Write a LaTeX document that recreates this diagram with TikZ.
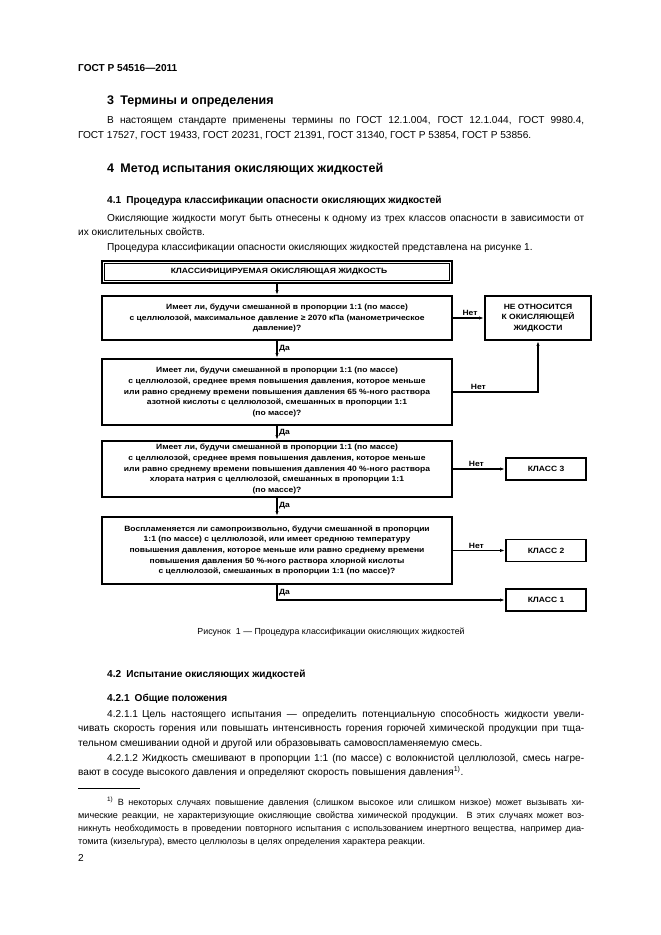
\documentclass[tikz,border=0pt]{standalone}
\usepackage{fontspec}
\setmainfont{Liberation Sans}
\newfontfamily\flowfont{Liberation Sans}[FakeStretch=1.12]
\usetikzlibrary{arrows.meta}
\newcommand\justline[1]{\makebox[506pt][s]{#1}}
\newcommand\justlinei[1]{\makebox[477pt][s]{#1}}
\tikzset{
  body/.style={anchor=base west, inner sep=0pt, font=\fontsize{10.1}{12}\selectfont},
  bodyb/.style={anchor=base west, inner sep=0pt, font=\bfseries\fontsize{10.1}{12}\selectfont},
  head/.style={anchor=base west, inner sep=0pt, font=\bfseries\fontsize{12.5}{14}\selectfont},
  foot/.style={anchor=base west, inner sep=0pt, font=\fontsize{9.1}{11}\selectfont},
  fbox/.style={draw, line width=1.8pt, inner sep=1pt, align=center,
     font=\flowfont\bfseries\fontsize{7.6}{10.6}\selectfont},
  lbl/.style={inner sep=1.5pt, font=\flowfont\bfseries\fontsize{7.6}{9}\selectfont},
  conn/.style={line width=1.1pt, -{Latex[length=5pt,width=3.2pt]}},
}
\begin{document}
\begin{tikzpicture}[x=1pt,y=-1pt]
\useasboundingbox (0,0) rectangle (661,935);
\fill[white] (0,0) rectangle (661,935);

% header and section 3
\node[bodyb] (hdr) at (78,71) {ГОСТ Р 54516—2011};
\node[head] (s3) at (107,104) {3\hspace{0.5em}Термины и определения};
\node[body] (p1a) at (107,123) {\justlinei{В настоящем стандарте применены термины по ГОСТ 12.1.004, ГОСТ 12.1.044, ГОСТ 9980.4,}};
\node[body] (p1b) at (78,138) {ГОСТ 17527, ГОСТ 19433, ГОСТ 20231, ГОСТ 21391, ГОСТ 31340, ГОСТ Р 53854, ГОСТ Р 53856.};

% section 4
\node[head] (s4) at (107,172) {4\hspace{0.5em}Метод испытания окисляющих жидкостей};
\node[bodyb] (s41) at (107,203) {4.1\hspace{0.5em}Процедура классификации опасности окисляющих жидкостей};
\node[body] (p2a) at (107,221) {\justlinei{Окисляющие жидкости могут быть отнесены к одному из трех классов опасности в зависимости от}};
\node[body] (p2b) at (78,235) {их окислительных свойств.};
\node[body] (p3) at (107,250) {Процедура классификации опасности окисляющих жидкостей представлена на рисунке 1.};

% flowchart
\node[fbox, minimum width=350pt, minimum height=22pt] (title) at (277,272) {\hspace*{4pt}КЛАССИФИЦИРУЕМАЯ ОКИСЛЯЮЩАЯ ЖИДКОСТЬ};
\draw[line width=0.8pt] ([shift={(3.2,3.2)}]title.north west) rectangle ([shift={(-3.2,-3.2)}]title.south east);

\node[fbox, minimum width=350pt, minimum height=44pt] (b1) at (277,318)
  {\hspace*{20pt}Имеет ли, будучи смешанной в пропорции 1:1 (по массе)\\
   с целлюлозой, максимальное давление ≥ 2070 кПа (манометрическое\\
   давление)?};
\node[fbox, minimum width=350pt, minimum height=66pt] (b2) at (277,392)
  {Имеет ли, будучи смешанной в пропорции 1:1 (по массе)\\
   с целлюлозой, среднее время повышения давления, которое меньше\\
   или равно среднему времени повышения давления 65 \%-ного раствора\\
   азотной кислоты с целлюлозой, смешанных в пропорции 1:1\\
   (по массе)?};
\node[fbox, minimum width=350pt, minimum height=56pt] (b3) at (277,469)
  {Имеет ли, будучи смешанной в пропорции 1:1 (по массе)\\
   с целлюлозой, среднее время повышения давления, которое меньше\\
   или равно среднему времени повышения давления 40 \%-ного раствора\\
   хлората натрия с целлюлозой, смешанных в пропорции 1:1\\
   (по массе)?};
\node[fbox, minimum width=350pt, minimum height=67pt] (b4) at (277,550.5)
  {Воспламеняется ли самопроизвольно, будучи смешанной в пропорции\\
   1:1 (по массе) с целлюлозой, или имеет среднюю температуру\\
   повышения давления, которое меньше или равно среднему времени\\
   повышения давления 50 \%-ного раствора хлорной кислоты\\
   с целлюлозой, смешанных в пропорции 1:1 (по массе)?};

\node[fbox, minimum width=106pt, minimum height=44pt] (ne) at (538,318)
  {НЕ ОТНОСИТСЯ\\К ОКИСЛЯЮЩЕЙ\\ЖИДКОСТИ};
\node[fbox, minimum width=80pt, minimum height=22pt] (k3) at (546,469) {КЛАСС 3};
\node[fbox, minimum width=80pt, minimum height=22pt] (k2) at (546,550.5) {КЛАСС 2};
\node[fbox, minimum width=80pt, minimum height=22pt] (k1) at (546,600) {КЛАСС 1};

\draw[conn] (title) -- (b1);
\draw[conn] (b1) -- node[lbl, right, pos=0.45] {Да} (b2);
\draw[conn] (b2) -- node[lbl, right, pos=0.45] {Да} (b3);
\draw[conn] (b3) -- node[lbl, right, pos=0.45] {Да} (b4);
\draw[conn] (b1.east) -- node[lbl, above, pos=0.55] {Нет} (ne.west);
\draw[conn] (b2.east) -- node[lbl, above, pos=0.3] {Нет} (ne.south |- b2.east) -- (ne.south);
\draw[conn] (b3.east) -- node[lbl, above, pos=0.45] {Нет} (k3.west);
\draw[conn] (b4.east) -- node[lbl, above, pos=0.45] {Нет} (k2.west);
\draw[conn] (b4.south) -- node[lbl, right, pos=0.5] {Да} (b4.south |- k1.west) -- (k1.west);

\node[anchor=base, inner sep=0pt, font=\fontsize{8.8}{10}\selectfont] (cap) at (331,634) {Рисунок\hspace{0.6em}1 — Процедура классификации окисляющих жидкостей};

% section 4.2
\node[bodyb] (s42) at (107,677.5) {4.2\hspace{0.5em}Испытание окисляющих жидкостей};
\node[bodyb] (s421) at (107,701.5) {4.2.1\hspace{0.5em}Общие положения};
\node[body] (p4a) at (107,717) {\justlinei{4.2.1.1\hspace{0.4em}Цель настоящего испытания — определить потенциальную способность жидкости увели-}};
\node[body] (p4b) at (78,731.5) {\justline{чивать скорость горения или повышать интенсивность горения горючей химической продукции при тща-}};
\node[body] (p4c) at (78,746) {тельном смешивании одной и другой или образовывать самовоспламеняемую смесь.};
\node[body] (p5a) at (107,761) {\justlinei{4.2.1.2\hspace{0.4em}Жидкость смешивают в пропорции 1:1 (по массе) с волокнистой целлюлозой, смесь нагре-}};
\node[body] (p5b) at (78,775) {вают в сосуде высокого давления и определяют скорость повышения давления\textsuperscript{1)}.};

% footnote
\draw[line width=0.6pt] (78,788) -- (140,788);
\node[foot] (f1) at (107,805) {\justlinei{\textsuperscript{1)} В некоторых случаях повышение давления (слишком высокое или слишком низкое) может вызывать хи-}};
\node[foot] (f2) at (78,818) {\justline{мические реакции, не характеризующие окисляющие свойства химической продукции. В этих случаях может воз-}};
\node[foot] (f3) at (78,831) {\justline{никнуть необходимость в проведении повторного испытания с использованием инертного вещества, например диа-}};
\node[foot] (f4) at (78,844) {томита (кизельгура), вместо целлюлозы в целях определения характера реакции.};

\node[body] (pg) at (78,861) {2};
\end{tikzpicture}
\end{document}
